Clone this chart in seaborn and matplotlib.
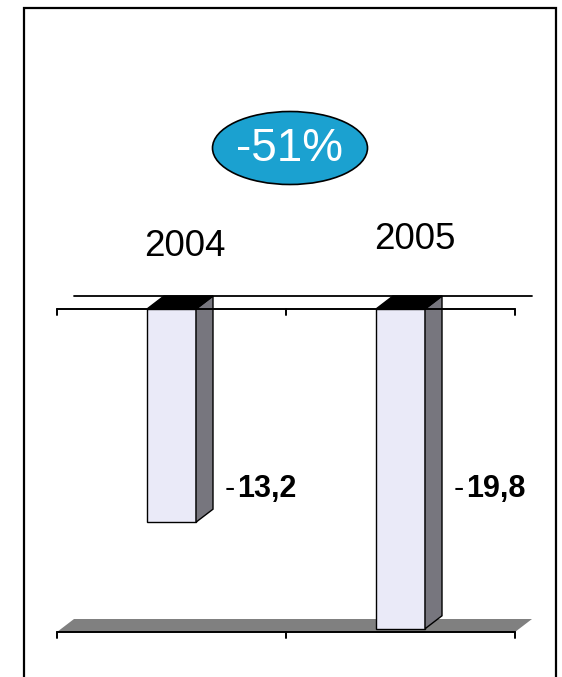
import matplotlib
matplotlib.use("Agg")
import matplotlib.pyplot as plt
from matplotlib.patches import Polygon, Ellipse, Rectangle
import seaborn as sns
import pandas as pd

years = ["2004", "2005"]
values = [-13.2, -19.8]
change_label = "-51%"

sns.set_theme(style="white")
plt.rcParams["font.family"] = ["Liberation Sans", "DejaVu Sans"]

W, H = 562, 677
fig = plt.figure(figsize=(W / 100, H / 100), dpi=100)
fig.patch.set_facecolor("white")

# front plane of the 3-D plot area, in pixels
left, right, top, bottom = 57, 515, 309, 632
ax = fig.add_axes([left / W, (H - bottom) / H, (right - left) / W, (bottom - top) / H])

df = pd.DataFrame({"year": years, "value": values})
sns.barplot(data=df, x="year", y="value", width=0.214, color="#EAEAF8",
            saturation=1, edgecolor="black", linewidth=1.0, ax=ax, zorder=2)
bars = list(ax.patches)

ax.set_xlim(-0.5, 1.5)
ax.set_ylim(-20, 0)
ax.axis("off")

# depth offset of the 3-D effect, converted from pixels to data units
px_x = (right - left) / 2.0
px_y = (bottom - top) / 20.0
ddx = 17 / px_x
ddy = 13 / px_y

# floor and back wall edge
floor = Polygon([(-0.5, -20), (1.5, -20), (1.5 + ddx, -20 + ddy), (-0.5 + ddx, -20 + ddy)],
                closed=True, facecolor="#808080", edgecolor="none", zorder=0.5, clip_on=False)
ax.add_patch(floor)
ax.plot([-0.5 + ddx, 1.5 + ddx], [ddy, ddy], color="black", lw=1.3, zorder=0.6, clip_on=False)

# side and top faces of each bar
for p in bars:
    x0, w = p.get_x(), p.get_width()
    y0, h = p.get_y(), p.get_height()
    yt, yb = max(y0, y0 + h), min(y0, y0 + h)
    side = Polygon([(x0 + w, yt), (x0 + w + ddx, yt + ddy), (x0 + w + ddx, yb + ddy), (x0 + w, yb)],
                   closed=True, facecolor="#77767E", edgecolor="black", lw=1.0,
                   zorder=2.1, clip_on=False)
    topf = Polygon([(x0, yt), (x0 + w, yt), (x0 + w + ddx, yt + ddy), (x0 + ddx, yt + ddy)],
                   closed=True, facecolor="black", edgecolor="black", lw=1.0,
                   zorder=2.1, clip_on=False)
    ax.add_patch(side)
    ax.add_patch(topf)

# axis lines with category ticks
tick_len = 6 / px_y
for yline in (0, -20):
    ax.plot([-0.5, 1.5], [yline, yline], color="black", lw=1.4, zorder=3, clip_on=False)
    for xt in (-0.5, 0.5, 1.5):
        ax.plot([xt, xt], [yline, yline - tick_len], color="black", lw=1.4, zorder=3,
                clip_on=False)

# value labels beside the bars: a light minus sign followed by the bold figure
for p, v in zip(bars, values):
    xr = p.get_x() + p.get_width() + ddx + 12 / px_x
    sign = "-" if v < 0 else ""
    t1 = ax.text(xr, -11.15, sign, ha="left", va="center",
                 fontsize=22, color="black", zorder=4)
    ax.annotate(f"{abs(v):.1f}".replace(".", ","), xy=(1, 0.5), xycoords=t1,
                xytext=(1, 0), textcoords="offset points", ha="left", va="center",
                fontsize=22, fontweight="bold", color="black", zorder=4)

# category labels above the plot
cat_pos = [(185, 247), (415, 240)]
for (cx, cy), yr in zip(cat_pos, years):
    fig.text(cx / W, 1 - cy / H, yr, ha="center", va="center", fontsize=26.5, color="black")

# change badge
ell = Ellipse((290 / W, 1 - 148 / H), 155 / W, 73 / H, transform=fig.transFigure,
              facecolor="#1BA1D0", edgecolor="black", lw=1.2)
fig.patches.append(ell)
fig.text(290 / W, 1 - 149 / H, change_label, ha="center", va="center",
         fontsize=33, color="white")

# outer frame
frame = Rectangle((24 / W, -0.05), (556 - 24) / W, (H - 8) / H + 0.05, transform=fig.transFigure,
                  facecolor="none", edgecolor="black", lw=1.6)
fig.patches.append(frame)

fig.savefig("out.png", dpi=100)
